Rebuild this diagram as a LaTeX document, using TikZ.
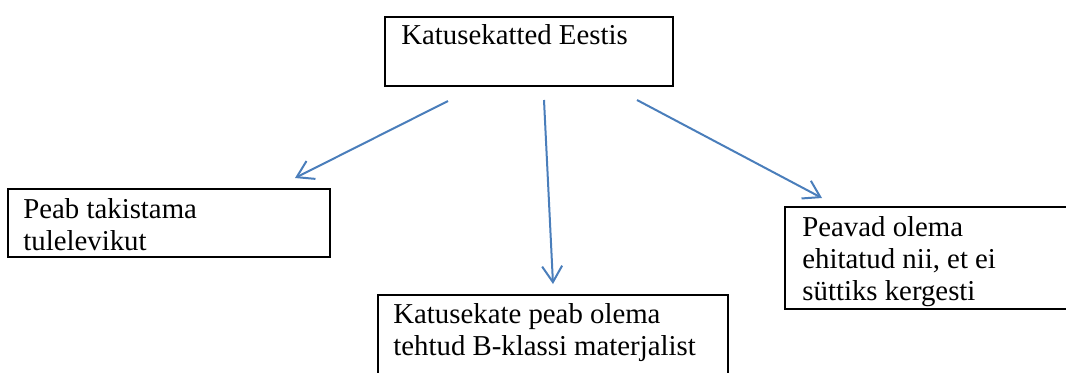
\documentclass[tikz,border=0pt]{standalone}
\usepackage{fontspec}
\setmainfont{Liberation Serif}
\usepackage{xcolor}
\usepackage{tikz}
\usetikzlibrary{arrows.meta,positioning}

\definecolor{arrowblue}{RGB}{74,126,187}

\begin{document}
\begin{tikzpicture}[
  x=0.5pt, y=-0.5pt,
  >={Straight Barb[length=8pt, width=10pt]},
  box/.style={draw, line width=1.4pt, rectangle, inner sep=0pt},
  boxtext/.style={font=\fontsize{14.4}{16}\selectfont, align=left,
                  inner sep=0pt, anchor=base west},
  arr/.style={->, draw=arrowblue, line width=1pt},
]
\useasboundingbox (0,0) rectangle (1066,372);
\clip (0,0) rectangle (1066,372);

% boxes
\node[box, minimum width=144pt, minimum height=34.5pt] (top) at (529,51.5) {};
\node[box, minimum width=161pt, minimum height=34pt] (left) at (169,223) {};
\node[box, minimum width=175pt, minimum height=45pt] (bottom) at (553,340) {};
\node[box, minimum width=150pt, minimum height=51pt] (right) at (935,258) {};

% texts (base = last line)
\node[boxtext] (topT) at (401,44) {Katusekatted Eestis};
\node[boxtext] (leftT) at (23,250) {Peab takistama\\tulelevikut};
\node[boxtext] (bottomT) at (393,355) {Katusekate peab olema\\tehtud B-klassi materjalist};
\node[boxtext] (rightT) at (802,300) {Peavad olema\\ehitatud nii, et ei\\süttiks kergesti};

% arrow ends
\coordinate (a1s) at (448,101);
\coordinate (a1e) at (295,178);
\coordinate (a2s) at (544,100);
\coordinate (a2e) at (553,284);
\coordinate (a3s) at (637,100);
\coordinate (a3e) at (822,198);

\draw[arr] (a1s) -- (a1e);
\draw[arr] (a2s) -- (a2e);
\draw[arr] (a3s) -- (a3e);
\end{tikzpicture}
\end{document}
